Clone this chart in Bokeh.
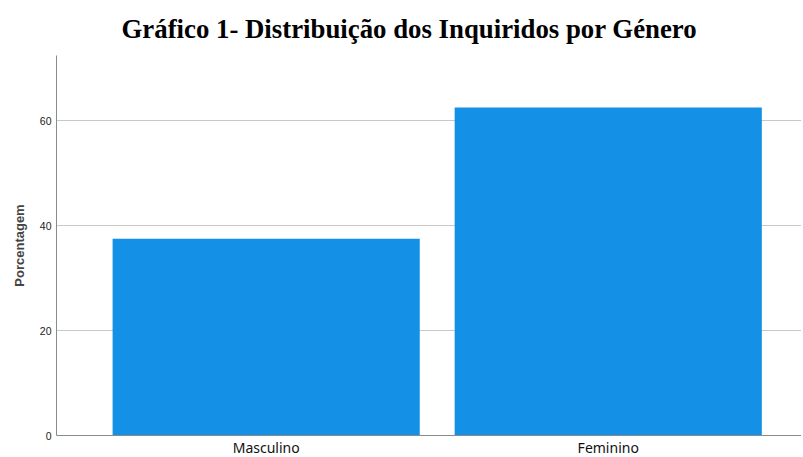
from bokeh.plotting import figure
from bokeh.models import ColumnDataSource, FixedTicker, Range1d, Title
from bokeh.embed import file_html
from bokeh.resources import INLINE

categories = ["Masculino", "Feminino"]
percentages = [37.5, 62.5]
y_ticks = [0, 20, 40, 60]

positions = list(range(1, len(categories) + 1))
source = ColumnDataSource(dict(x=positions, top=percentages, cat=categories))

p = figure(frame_width=745, frame_height=380, output_backend="svg", toolbar_location=None,
           x_range=Range1d(0.387, 2.565), y_range=Range1d(0, 72.4),
           min_border_left=56, min_border_right=0, min_border_top=0, min_border_bottom=0)
p.title = None
t = Title(text="Gráfico 1- Distribuição dos Inquiridos por Género", align="left",
          text_font="Liberation Serif", text_font_size="26.8px", text_font_style="bold",
          text_color="#000000", offset=65, standoff=23)
p.add_layout(t, "above")
p.outline_line_color = None
p.background_fill_color = "white"
p.border_fill_color = "white"

p.vbar(x="x", top="top", width=0.898, source=source, fill_color="#1491E6", line_color=None)

p.xgrid.grid_line_color = None
p.ygrid.grid_line_color = "#c8c8c8"
p.ygrid.ticker = FixedTicker(ticks=y_ticks)

p.yaxis.ticker = FixedTicker(ticks=y_ticks)
p.yaxis.axis_label = "Porcentagem"
p.yaxis.axis_label_text_font = "Liberation Sans"
p.yaxis.axis_label_text_font_style = "bold"
p.yaxis.axis_label_text_font_size = "13px"
p.yaxis.axis_label_standoff = 10
p.yaxis.major_label_text_font = "Liberation Sans"
p.yaxis.major_label_text_font_size = "10.5px"
p.yaxis.major_label_text_color = "#222222"
p.yaxis.major_label_standoff = 5
p.yaxis.major_tick_line_color = None
p.yaxis.major_tick_out = 0
p.yaxis.major_tick_in = 0
p.yaxis.minor_tick_line_color = None
p.yaxis.minor_tick_out = 0
p.yaxis.axis_line_color = "#8a8a8a"

p.xaxis.ticker = FixedTicker(ticks=positions)
p.xaxis.major_label_overrides = {pos: c for pos, c in zip(positions, categories)}
p.xaxis.major_label_text_font = "Noto Sans"
p.xaxis.major_label_text_font_size = "14px"
p.xaxis.major_label_text_color = "#111111"
p.xaxis.major_label_standoff = 2
p.xaxis.axis_label_standoff = 0
p.xaxis.major_tick_line_color = None
p.xaxis.major_tick_out = 0
p.xaxis.major_tick_in = 0
p.xaxis.minor_tick_line_color = None
p.xaxis.minor_tick_out = 0
p.xaxis.axis_line_color = "#8a8a8a"

open("out.html", "w").write(file_html(p, INLINE))
